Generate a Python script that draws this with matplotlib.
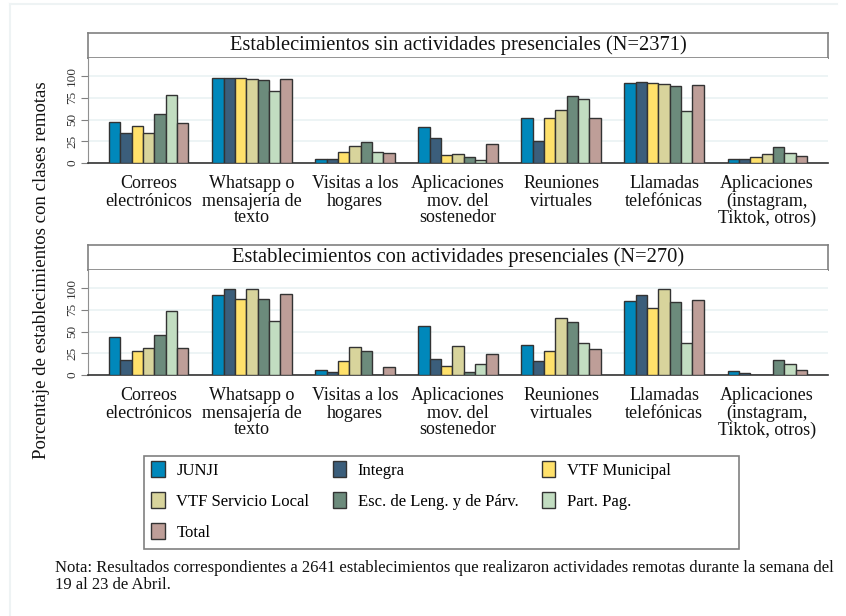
import numpy as np
import matplotlib.pyplot as plt
from matplotlib.patches import Rectangle
from matplotlib.lines import Line2D

plt.rcParams['font.family'] = ['Liberation Serif', 'DejaVu Serif']

categorias = ["Correos\nelectrónicos", "Whatsapp o\nmensajería de\ntexto",
              "Visitas a los\nhogares", "Aplicaciones\nmov. del\nsostenedor",
              "Reuniones\nvirtuales", "Llamadas\ntelefónicas",
              "Aplicaciones\n(instagram,\nTiktok, otros)"]
series = ["JUNJI", "Integra", "VTF Municipal", "VTF Servicio Local",
          "Esc. de Leng. y de Párv.", "Part. Pag.", "Total"]
colores = ["#0088bb", "#3b5e7b", "#ffe16b", "#d8d49c", "#6c8b7c", "#c2ddc1", "#be9e98"]

# sin actividades presenciales (N=2371): one row per category, one value per series
sin_pres = [
    [47.7, 34.0, 42.7, 35.0, 57.0, 78.5, 46.0],
    [98.5, 98.5, 97.7, 96.5, 95.4, 83.0, 96.5],
    [4.6, 4.6, 13.0, 19.6, 24.6, 12.7, 11.0],
    [41.5, 28.5, 9.6, 10.8, 6.5, 3.0, 22.3],
    [51.5, 25.8, 52.0, 60.8, 77.0, 74.0, 52.0],
    [92.3, 93.8, 92.3, 91.0, 89.0, 59.6, 90.0],
    [4.6, 4.2, 7.3, 10.8, 18.5, 11.5, 8.5],
]
# con actividades presenciales (N=270)
con_pres = [
    [44.2, 17.3, 27.3, 31.0, 45.8, 74.2, 31.5],
    [92.0, 98.8, 88.0, 99.2, 88.0, 62.0, 93.0],
    [5.4, 3.5, 16.0, 32.7, 28.0, 0.0, 9.2],
    [56.5, 18.0, 10.8, 33.0, 3.8, 12.3, 23.8],
    [34.6, 15.8, 27.3, 66.0, 61.5, 37.0, 30.4],
    [85.8, 92.7, 77.3, 99.2, 84.2, 37.0, 86.5],
    [4.2, 2.7, 0.0, 0.0, 17.3, 12.3, 5.8],
]
titulos = ["Establecimientos sin actividades presenciales (N=2371)",
           "Establecimientos con actividades presenciales (N=270)"]

W, H = 846, 616
fig = plt.figure(figsize=(W / 100, H / 100), dpi=100)
fig.patch.set_facecolor("white")


def fx(px):
    return px / W


def fy(py):
    return 1 - py / H


# faint outer frame of the screenshot
fig.add_artist(Line2D([fx(10), fx(837)], [fy(4), fy(4)], color="#eef3f4", lw=1.5))
fig.add_artist(Line2D([fx(10), fx(10)], [fy(4), 0], color="#eef3f4", lw=1.5))

paneles = [(33, 58, 163, sin_pres), (245, 270, 375, con_pres)]
x = np.arange(len(categorias))
ancho = 0.11

for (tbox, ptop, pbot, datos), titulo in zip(paneles, titulos):
    # title box
    tax = fig.add_axes([fx(88), fy(ptop), fx(828) - fx(88), fy(tbox) - fy(ptop)])
    tax.set_xticks([])
    tax.set_yticks([])
    for s in tax.spines.values():
        s.set_color("#808080")
        s.set_linewidth(1.2)
    tax.text(0.5, 0.5, titulo, ha="center", va="center", fontsize=14.8, color="#111111")

    ax = fig.add_axes([fx(88), fy(pbot), fx(828) - fx(88), fy(ptop) - fy(pbot)])
    vals = np.array(datos)
    for i, nombre in enumerate(series):
        ax.bar(x + (i - 3) * ancho, vals[:, i], width=ancho, color=colores[i],
               edgecolor="#333333", linewidth=1, label=nombre, zorder=3)
    ax.set_xlim(-0.59, 6.59)
    ax.set_ylim(0, 121)
    ax.set_yticks([0, 25, 50, 75, 100])
    ax.set_yticklabels(["0", "25", "50", "75", "100"], rotation=90, va="center",
                       fontsize=9.5, color="#333333")
    ax.tick_params(axis="y", length=5, color="#808080", pad=2)
    ax.yaxis.grid(True, color="#eaf2f3", lw=1.2, zorder=0)
    ax.set_xticks(x)
    ax.set_xticklabels(categorias, fontsize=13, linespacing=1.0, color="#111111")
    ax.tick_params(axis="x", length=0, pad=9)
    ax.spines["top"].set_visible(False)
    ax.spines["right"].set_visible(False)
    ax.spines["left"].set_color("#909090")
    ax.spines["bottom"].set_color("#333333")
    ax.spines["bottom"].set_linewidth(1.2)
    ax.set_facecolor("white")

fig.text(fx(42), fy(270), "Porcentaje de establecimientos con clases remotas",
         rotation=90, ha="center", va="center", fontsize=13.5, color="#111111")

# legend with its own frame, filled row by row
fig.add_artist(Rectangle((fx(144), fy(549)), fx(739) - fx(144), fy(456) - fy(549),
                         transform=fig.transFigure, fill=False, edgecolor="#808080", lw=1.2))
handles, labels = ax.get_legend_handles_labels()
orden = [0, 3, 6, 1, 4, 2, 5]
fig.legend([handles[k] for k in orden], [labels[k] for k in orden],
           loc="upper left", bbox_to_anchor=(fx(148), fy(458)),
           ncol=3, frameon=False, fontsize=12, handlelength=0.8, handleheight=1.1,
           handletextpad=0.7, columnspacing=1.4, labelspacing=0.8,
           borderaxespad=0, borderpad=0.2)

fig.text(fx(55), fy(568), "Nota: Resultados correspondientes a 2641 establecimientos que realizaron "
         "actividades remotas durante la semana del", fontsize=12.0, va="center", color="#111111")
fig.text(fx(55), fy(585), "19 al 23 de Abril.", fontsize=12.0, va="center", color="#111111")

fig.savefig("out.png", dpi=100)
